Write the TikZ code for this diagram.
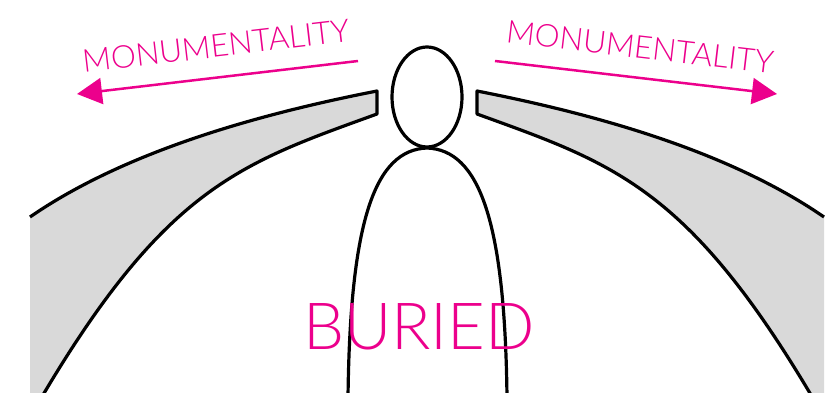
\documentclass[tikz,border=0pt]{standalone}
\usepackage{fontspec}
\IfFontExistsTF{Lato Light}{\newfontfamily\thinfont{Lato Light}}{\newfontfamily\thinfont{Lato}}
\usepackage{tikz}
\usetikzlibrary{arrows.meta}
\definecolor{magentapink}{RGB}{236,0,140}
\definecolor{bandgray}{RGB}{217,217,217}

\begin{document}
\begin{tikzpicture}[x=1pt,y=1pt,
  outline/.style={line width=3.2pt,black,line join=round},
  push/.style={line width=2.5pt,magentapink,-{Triangle[length=25pt,width=26pt]}},
  label/.style={magentapink,font=\thinfont\fontsize{31.5}{31.5}\selectfont,inner sep=0pt}]
\useasboundingbox (0,0) rectangle (830,393);
\clip (0,0) rectangle (830,393);

% Left band
\fill[bandgray] (30,176) .. controls (130,245) and (270,281) .. (377,302)
  -- (377,279) .. controls (242,230) and (166,207) .. (40,-7) -- (30,-7) -- cycle;
\draw[outline] (30,176) .. controls (130,245) and (270,281) .. (377,302)
  -- (377,279) .. controls (242,230) and (166,207) .. (40,-7);

% Right band
\fill[bandgray] (824,176) .. controls (724,245) and (584,281) .. (477,302)
  -- (477,279) .. controls (612,230) and (688,207) .. (814,-7) -- (824,-7) -- cycle;
\draw[outline] (824,176) .. controls (724,245) and (584,281) .. (477,302)
  -- (477,279) .. controls (612,230) and (688,207) .. (814,-7);

% Figure
\draw[outline] (348,-5) .. controls (350,173) and (375,243) .. (427,245)
  .. controls (479,243) and (505,173) .. (507,-5);
\draw[outline,fill=white] (427,296) ellipse [x radius=35, y radius=50];

% Arrows
\coordinate (lstart) at (358,332);
\coordinate (lend) at (77,299);
\coordinate (rstart) at (495,332);
\coordinate (rend) at (777,299);
\draw[push] (lstart) -- (lend);
\draw[push] (rstart) -- (rend);

\node[label,rotate=6.7] (lmonu) at (216,347) {MONUMENTALITY};
\node[label,rotate=-6.7] (rmonu) at (640,346) {MONUMENTALITY};

\node[label,font=\thinfont\fontsize{65}{65}\selectfont,anchor=base] (buried) at (419,43) {BURIED};
\end{tikzpicture}
\end{document}
